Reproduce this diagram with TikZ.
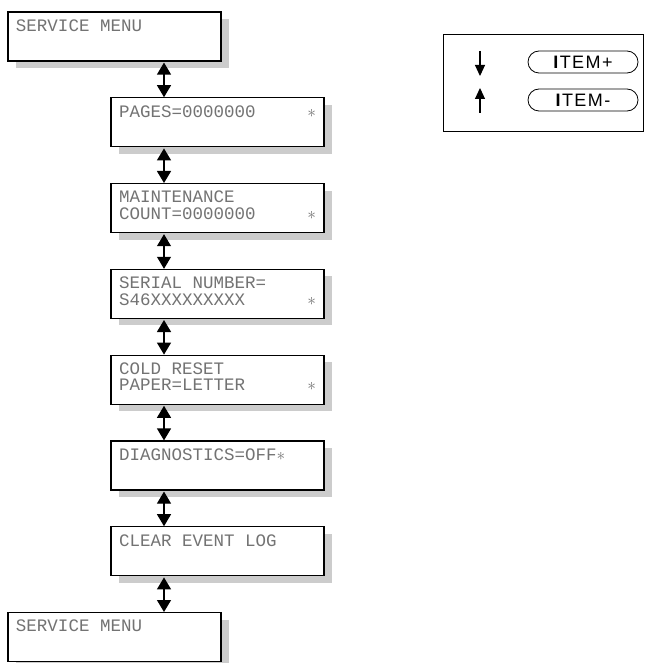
\documentclass[tikz,border=0pt]{standalone}
\usepackage{fontspec}
\setmonofont{Liberation Mono}
\newfontfamily\keyfont{Liberation Sans}[LetterSpace=8]
\usetikzlibrary{positioning,shadows,arrows.meta,shapes.misc}

\tikzset{
  lcd/.style={draw, line width=1.2pt, fill=white, inner xsep=8pt, inner ysep=7.5pt,
    drop shadow={shadow xshift=8pt, shadow yshift=-7pt, fill=black!20, opacity=1},
    font=\ttfamily\fontsize{17.5}{16.5}\selectfont, text=black!55},
  updown/.style={{Triangle[width=14pt,length=12pt]}-{Triangle[width=14pt,length=12pt]}, line width=1.2pt},
  key/.style={draw, rounded rectangle, line width=0.8pt, minimum width=110pt, minimum height=22pt,
    inner sep=0pt, font=\keyfont\fontsize{18}{18}\selectfont},
  keyarrow/.style={-{Triangle[width=10pt,length=11pt]}, line width=1.1pt},
}
\newcommand{\lcdtext}[1]{\parbox[t][34pt][t]{197pt}{#1}}
\newcommand{\lcdstar}{\hfill$\ast$}

\begin{document}
\begin{tikzpicture}[x=1pt,y=1pt,node distance=85.8pt,on grid]
  \useasboundingbox (0,0) rectangle (647,-663);
  % menu displays
  \node[lcd] (menutop) at (114.5,-36.5) {\lcdtext{SERVICE MENU}};
  \node[lcd] (pages) [below right=85.8pt and 103pt of menutop] {\lcdtext{PAGES=0000000\lcdstar}};
  \node[lcd] (maint) [below=of pages] {\lcdtext{MAINTENANCE\\COUNT=0000000\lcdstar}};
  \node[lcd] (serial) [below=of maint] {\lcdtext{SERIAL NUMBER=\\S46XXXXXXXXX\lcdstar}};
  \node[lcd] (coldreset) [below=of serial] {\lcdtext{COLD RESET\\PAPER=LETTER\lcdstar}};
  \node[lcd] (diag) [below=of coldreset] {\lcdtext{DIAGNOSTICS=OFF$\ast$}};
  \node[lcd] (clearlog) [below=of diag] {\lcdtext{CLEAR EVENT LOG}};
  \node[lcd] (menubottom) [below left=85.8pt and 103pt of clearlog] {\lcdtext{SERVICE MENU}};
  % up/down arrows
  \coordinate (axis) at (164,0);
  \foreach \a/\b in {menutop/pages, pages/maint, maint/serial, serial/coldreset,
                     coldreset/diag, diag/clearlog, clearlog/menubottom}
    \draw[updown, shorten <=1pt] (\a.south -| axis) -- (\b.north -| axis);
  % legend
  \node[draw, line width=1pt, minimum width=200pt, minimum height=97pt, inner sep=0pt] (legend) at (543,-83.5) {};
  \node[key] (itemplus) at (583,-62) {\textbf{I}TEM+};
  \node[key] (itemminus) [below=38pt of itemplus] {\textbf{I}TEM-};
  \coordinate (downfrom) at (480,-51);
  \coordinate (downto) at (480,-76);
  \coordinate (upfrom) at (480,-113);
  \coordinate (upto) at (480,-88);
  \draw[keyarrow] (downfrom) -- (downto);
  \draw[keyarrow] (upfrom) -- (upto);
\end{tikzpicture}
\end{document}
